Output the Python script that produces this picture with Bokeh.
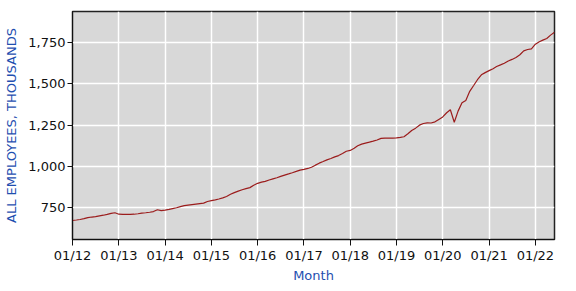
import datetime as dt
from bokeh.plotting import figure
from bokeh.models import FixedTicker, DatetimeTickFormatter, NumeralTickFormatter, Range1d, ColumnDataSource
from bokeh.embed import file_html
from bokeh.resources import INLINE

start_year = 2012
start_month = 1
values_2012 = [673, 676, 679, 684, 690, 694, 697, 701, 705, 710, 716, 720]
values_2013 = [711, 710, 710, 710, 711, 714, 718, 720, 723, 727, 738, 733]
values_2014 = [736, 740, 745, 750, 757, 763, 766, 769, 772, 775, 778, 788]
values_2015 = [793, 798, 803, 810, 818, 832, 842, 851, 859, 866, 872, 886]
values_2016 = [898, 905, 910, 918, 925, 932, 940, 948, 955, 962, 970, 978]
values_2017 = [982, 988, 995, 1008, 1020, 1030, 1040, 1048, 1058, 1066, 1078, 1092]
values_2018 = [1097, 1110, 1125, 1135, 1141, 1147, 1153, 1160, 1170, 1172, 1171, 1171]
values_2019 = [1173, 1176, 1180, 1198, 1218, 1232, 1250, 1260, 1264, 1263, 1270, 1285]
values_2020 = [1300, 1325, 1343, 1268, 1335, 1385, 1400, 1455, 1490, 1525, 1555, 1568]
values_2021 = [1580, 1592, 1605, 1615, 1625, 1638, 1648, 1660, 1676, 1700, 1708, 1712]
values_2022 = [1740, 1755, 1765, 1775, 1795, 1812]

tick_years = list(range(2012, 2023))
y_ticks = [750, 1000, 1250, 1500, 1750]

values = (values_2012 + values_2013 + values_2014 + values_2015 + values_2016 +
          values_2017 + values_2018 + values_2019 + values_2020 + values_2021 + values_2022)
dates = []
for i in range(len(values)):
    m = start_month - 1 + i
    dates.append(dt.datetime(start_year + m // 12, m % 12 + 1, 1))

src = ColumnDataSource(dict(x=dates, y=values))

p = figure(width=576, height=291, x_axis_type="datetime",
           output_backend="svg", toolbar_location=None,
           x_range=Range1d(dates[0], dates[-1]), y_range=Range1d(558, 1938),
           min_border_left=72, min_border_right=22, min_border_top=11, min_border_bottom=52)
p.background_fill_color = "#d8d8d8"
p.border_fill_color = "white"
p.outline_line_color = "#222222"
p.outline_line_width = 1.5

p.line("x", "y", source=src, line_color="#9b1c1c", line_width=1.2)

tick_ms = [dt.datetime(yr, 1, 1).timestamp() * 1000 for yr in tick_years]
p.xaxis.ticker = FixedTicker(ticks=tick_ms)
fmt = "%m/%y"
p.xaxis.formatter = DatetimeTickFormatter(years=fmt, months=fmt, days=fmt, hours=fmt,
                                          minutes=fmt, seconds=fmt, milliseconds=fmt,
                                          microseconds=fmt, hourmin=fmt, minsec=fmt)
p.yaxis.ticker = FixedTicker(ticks=y_ticks)
p.yaxis.formatter = NumeralTickFormatter(format="0,0")

for ax in (p.xaxis, p.yaxis):
    ax.major_label_text_font = "DejaVu Sans"
    ax.major_label_text_font_size = "13px"
    ax.major_label_text_color = "#111111"
    ax.axis_label_text_font = "DejaVu Sans"
    ax.axis_label_text_font_size = "13px"
    ax.axis_label_text_font_style = "normal"
    ax.axis_label_text_color = "#1f4fb0"
    ax.minor_tick_line_color = None
    ax.major_tick_in = 0
    ax.axis_line_color = "#111111"
    ax.major_tick_line_color = "#111111"

p.xaxis.major_tick_out = 6
p.yaxis.major_tick_out = 5
p.xaxis.major_label_standoff = 2
p.yaxis.major_label_standoff = 2
p.xaxis.axis_label = "Month"
p.yaxis.axis_label = "ALL EMPLOYEES, THOUSANDS"
p.xaxis.axis_label_standoff = 2
p.yaxis.axis_label_standoff = 6

p.xgrid.ticker = FixedTicker(ticks=tick_ms)
p.ygrid.ticker = FixedTicker(ticks=y_ticks)
p.grid.grid_line_color = "white"
p.grid.grid_line_width = 1.5

open("out.html", "w").write(file_html(p, INLINE))
